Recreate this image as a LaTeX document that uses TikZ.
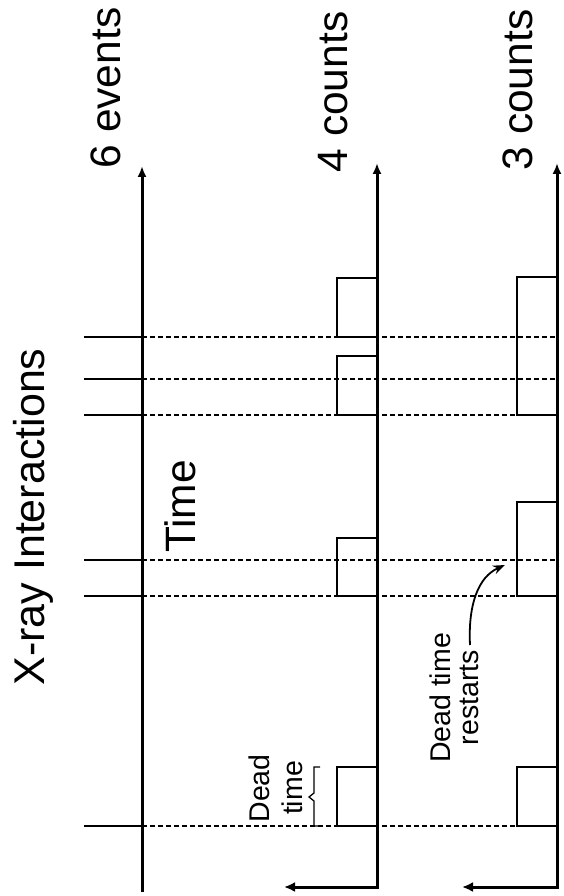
\documentclass[tikz,border=0pt]{standalone}
\usepackage{fontspec}
\setmainfont{Liberation Sans}
\usetikzlibrary{arrows.meta}
\begin{document}
\begin{tikzpicture}[x=1pt,y=1pt,
  axisline/.style={line width=3pt,line join=miter},
  evline/.style={line width=1.8pt,dash pattern=on 5pt off 3pt},
  stub/.style={line width=1.8pt},
  pulse/.style={line width=2.6pt},
  bigtext/.style={rotate=90,anchor=base,font=\fontsize{42.5}{48}\selectfont,inner sep=0pt},
  smalltext/.style={rotate=90,anchor=base,font=\fontsize{28.5}{32}\selectfont,inner sep=0pt}]
\useasboundingbox (0,0) rectangle (563,-896);

% event lines
\foreach \y in {337,379,415,560,596,826}{
  \draw[stub] (84,-\y) -- (142,-\y);
  \draw[evline] (142,-\y) -- (557,-\y);
}

% pulses, non-paralyzable
\draw[pulse] (337,-337) rectangle (377,-278);
\draw[pulse] (337,-415) rectangle (377,-356);
\draw[pulse] (337,-596) rectangle (377,-538);
\draw[pulse] (337,-826) rectangle (377,-767);
% pulses, paralyzable
\draw[pulse] (517,-415) rectangle (557,-277);
\draw[pulse] (517,-596) rectangle (557,-502);
\draw[pulse] (517,-826) rectangle (557,-767);

% axes
\coordinate (a1b) at (142,-892);
\coordinate (a1t) at (142,-166);
\draw[axisline,-{Latex[length=11pt,width=9pt]}] (a1b) -- (a1t);
\coordinate (a2l) at (284,-887);
\coordinate (a2c) at (377,-887);
\coordinate (a2t) at (377,-163);
\draw[axisline,{Latex[length=11pt,width=10pt]}-{Latex[length=11pt,width=9pt]}] (a2l) -- (a2c) -- (a2t);
\coordinate (a3l) at (462,-887);
\coordinate (a3c) at (557,-887);
\coordinate (a3t) at (557,-163);
\draw[axisline,{Latex[length=11pt,width=10pt]}-{Latex[length=11pt,width=9pt]}] (a3l) -- (a3c) -- (a3t);

% labels
\node[bigtext,font=\fontsize{43}{48}\selectfont] (title) at (44,-517) {X-ray Interactions};
\node[bigtext] (ev) at (120,-88) {6 events};
\node[bigtext] (c4) at (347,-92) {4 counts};
\node[bigtext] (c3) at (532,-90) {3 counts};
\node[bigtext] (time) at (195,-506.5) {Time};

\node[smalltext] (dead1) at (269,-788.5) {Dead};
\node[smalltext] (dead2) at (302,-788) {time};
\draw[line width=1.3pt,line join=miter] (320,-767) -- (314,-767) -- (314,-793) -- (309,-797) -- (314,-801) -- (314,-826) -- (320,-826);

\node[smalltext] (rs1) at (450,-698) {Dead time};
\node[smalltext] (rs2) at (478,-697.5) {restarts};
\coordinate (rstart) at (470,-645);
\coordinate (rtip) at (505,-565);
\draw[line width=1.8pt,-{Stealth[length=12pt,width=9pt]}] (rstart) .. controls (468,-605) and (478,-577) .. (rtip);
\end{tikzpicture}
\end{document}
